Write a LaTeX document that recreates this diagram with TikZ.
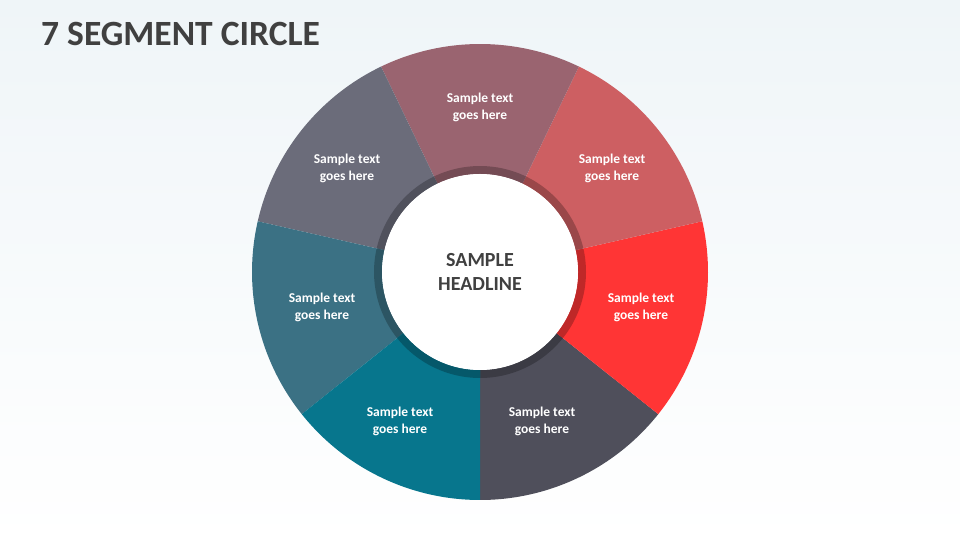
\documentclass[tikz,border=0pt]{standalone}
\usepackage{fontspec}
\setmainfont{Carlito}
\definecolor{Ink}{HTML}{404040}
\definecolor{BgTop}{HTML}{EFF5F8}
\definecolor{SegGray}{HTML}{4F4F5B}
\definecolor{SegRed}{HTML}{FF3535}
\definecolor{SegCoral}{HTML}{CD5F62}
\definecolor{SegMauve}{HTML}{9A6470}
\definecolor{SegSlate}{HTML}{6B6C7A}
\definecolor{SegSteel}{HTML}{3B7184}
\definecolor{SegTeal}{HTML}{07768D}
\tikzset{
 seglabel/.style={text=white,font=\bfseries\fontsize{13.5}{17}\selectfont,align=center,inner sep=0pt},
 hub/.style={circle,fill=white,minimum size=196pt,inner sep=0pt,align=center,font=\bfseries\fontsize{20}{24}\selectfont,text=Ink},
 title/.style={anchor=base west,inner sep=0pt,font=\bfseries\fontsize{35.5}{40}\selectfont,text=Ink}
}

\begin{document}
\begin{tikzpicture}[x=1pt,y=1pt]
\shade[top color=BgTop,bottom color=white] (0,0) rectangle (960,540);
\node[title] (title) at (41,494) {7 SEGMENT CIRCLE};
\begin{scope}[shift={(480,268)}]
\foreach \i/\col/\lx/\ly in {0/SegGray/62/-149.5,1/SegRed/161/-35,2/SegCoral/132/104,3/SegMauve/0/165,4/SegSlate/-133/104,5/SegSteel/-158/-35,6/SegTeal/-80/-149.5} {
 \pgfmathsetmacro\a{270+\i*360/7}
 \pgfmathsetmacro\b{\a+360/7}
 \fill[\col] (\a:228) arc[start angle=\a,end angle=\b,radius=228] -- (\b:98) arc[start angle=\b,end angle=\a,radius=98] -- cycle;
 \fill[\col!75!black] (\a:106) arc[start angle=\a,end angle=\b,radius=106] -- (\b:98) arc[start angle=\b,end angle=\a,radius=98] -- cycle;
 \node[seglabel] (seg\i) at (\lx,\ly) {Sample text\\goes here};
}
\node[hub] (hub) at (0,0) {SAMPLE\\HEADLINE};
\end{scope}
\end{tikzpicture}
\end{document}
